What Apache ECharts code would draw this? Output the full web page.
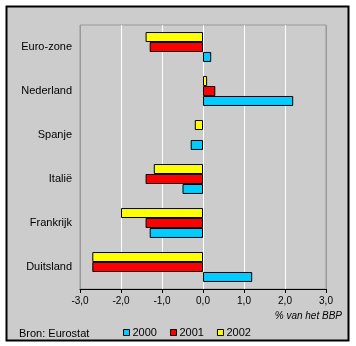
<!DOCTYPE html>
<html>
<head>
<meta charset="utf-8">
<script src="https://cdn.jsdelivr.net/npm/echarts@6/dist/echarts.min.js"></script>
<style>
  html, body { margin: 0; padding: 0; background: #ffffff; }
  #chart { width: 356px; height: 346px; }
</style>
</head>
<body>
<div id="chart"></div>
<script>
// Begrotingssaldo als % van het BBP (bottom-to-top order for the category axis)
const landen = ['Duitsland', 'Frankrijk', 'Italië', 'Spanje', 'Nederland', 'Euro-zone'];
const saldo2000 = [1.2, -1.3, -0.5, -0.3, 2.2, 0.2];
const saldo2001 = [-2.7, -1.4, -1.4, 0.0, 0.3, -1.3];
const saldo2002 = [-2.7, -2.0, -1.2, -0.2, 0.1, -1.4];
const jaren = ['2000', '2001', '2002'];
const kleuren = ['#00ccff', '#ff0000', '#ffff00'];
const asTicks = [-3, -2, -1, 0, 1, 2, 3];

const FONT = 'Liberation Sans, Arial, sans-serif';
const reeksen = [saldo2000, saldo2001, saldo2002];

// zero values get no outline, so they leave no visible sliver
const metRand = arr => arr.map(v => (v === 0 ? { value: v, itemStyle: { borderWidth: 0 } } : v));

// ECharts stacks the first bar series at the top of each band; list 2002 first
const volgorde = [2, 1, 0];

const chart = echarts.init(document.getElementById('chart'), null, { renderer: 'canvas' });

chart.setOption({
  animation: false,
  backgroundColor: '#ffffff',
  textStyle: { fontFamily: FONT },
  graphic: [
    {
      type: 'rect', z: -10, silent: true,
      shape: { x: 6.5, y: 6.5, width: 342, height: 334 },
      style: { fill: '#cccccc', stroke: '#000000', lineWidth: 2 }
    },
    {
      type: 'text', z: 10, left: 19, top: 328,
      style: { text: 'Bron: Eurostat', fill: '#000', font: '11px ' + FONT }
    },
    {
      type: 'text', z: 10, right: 14, top: 311,
      style: { text: '% van het BBP', fill: '#000', font: 'italic 10px ' + FONT }
    }
  ],
  grid: {
    left: 80, right: 30, top: 25, bottom: 57,
    show: true, backgroundColor: '#cccccc', borderColor: '#999999', borderWidth: 1
  },
  legend: {
    data: jaren,
    left: 118, top: 322,
    itemWidth: 6, itemHeight: 6, itemGap: 13,
    icon: 'rect',
    textStyle: { fontFamily: FONT, fontSize: 11, color: '#000', padding: [0, 0, 0, -2] },
    itemStyle: { borderColor: '#000', borderWidth: 1 }
  },
  xAxis: {
    type: 'value',
    min: asTicks[0], max: asTicks[asTicks.length - 1], interval: 1,
    axisLine: { show: true, onZero: false, lineStyle: { color: '#000', width: 1 } },
    axisTick: { show: true, length: 4, lineStyle: { color: '#000' } },
    axisLabel: {
      margin: 7, color: '#000', fontSize: 10, fontFamily: FONT,
      formatter: v => v.toFixed(1).replace('.', ',')
    },
    splitLine: {
      show: true,
      lineStyle: { color: ['#999999', '#ffffff', '#ffffff', '#ffffff', '#ffffff', '#ffffff', '#999999'], width: 1 }
    }
  },
  yAxis: {
    type: 'category',
    data: landen,
    axisLine: { show: false },
    axisTick: { show: false },
    axisLabel: { margin: 8, color: '#000', fontSize: 11, fontFamily: FONT },
    splitLine: { show: false }
  },
  series: volgorde.map(i => ({
    name: jaren[i],
    type: 'bar',
    data: metRand(reeksen[i]),
    barGap: '0%',
    barCategoryGap: '32%',
    itemStyle: { color: kleuren[i], borderColor: '#000', borderWidth: 1 }
  }))
});
</script>
</body>
</html>
